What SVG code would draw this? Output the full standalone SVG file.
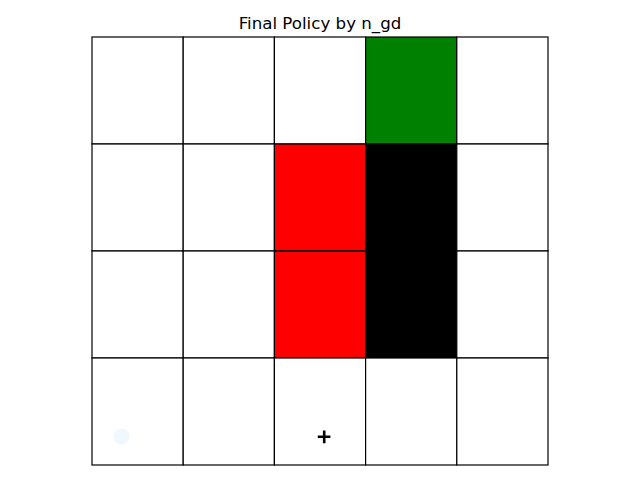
<svg xmlns="http://www.w3.org/2000/svg" width="640" height="480" viewBox="0 0 640 480">
<style>
.c{stroke:#000;stroke-width:1.2}
.t{font-family:"DejaVu Sans",sans-serif;font-size:16.67px;fill:#000}
</style>
<rect width="640" height="480" fill="#fff"/>
<text class="t" x="320" y="29" text-anchor="middle">Final Policy by n_gd</text>
<g id="grid">
<g id="r0">
<rect class="c" x="92" y="37" width="91.2" height="107" fill="#fff"/>
<rect class="c" x="183.2" y="37" width="91.2" height="107" fill="#fff"/>
<rect class="c" x="274.4" y="37" width="91.2" height="107" fill="#fff"/>
<rect class="c" x="365.6" y="37" width="91.2" height="107" fill="#008000"/>
<rect class="c" x="456.8" y="37" width="91.2" height="107" fill="#fff"/>
</g>
<g id="r1">
<rect class="c" x="92" y="144" width="91.2" height="107" fill="#fff"/>
<rect class="c" x="183.2" y="144" width="91.2" height="107" fill="#fff"/>
<rect class="c" x="274.4" y="144" width="91.2" height="107" fill="#f00"/>
<rect class="c" x="365.6" y="144" width="91.2" height="107" fill="#000"/>
<rect class="c" x="456.8" y="144" width="91.2" height="107" fill="#fff"/>
</g>
<g id="r2">
<rect class="c" x="92" y="251" width="91.2" height="107" fill="#fff"/>
<rect class="c" x="183.2" y="251" width="91.2" height="107" fill="#fff"/>
<rect class="c" x="274.4" y="251" width="91.2" height="107" fill="#f00"/>
<rect class="c" x="365.6" y="251" width="91.2" height="107" fill="#000"/>
<rect class="c" x="456.8" y="251" width="91.2" height="107" fill="#fff"/>
</g>
<g id="r3">
<rect class="c" x="92" y="358" width="91.2" height="107" fill="#fff"/>
<rect class="c" x="183.2" y="358" width="91.2" height="107" fill="#fff"/>
<rect class="c" x="274.4" y="358" width="91.2" height="107" fill="#fff"/>
<rect class="c" x="365.6" y="358" width="91.2" height="107" fill="#fff"/>
<rect class="c" x="456.8" y="358" width="91.2" height="107" fill="#fff"/>
</g>
</g>
<g id="markers">
<circle cx="121.6" cy="436.5" r="8" fill="#f0f8ff"/>
<path d="M317.8 436.8h12.6M324.2 430.6v12.6" stroke="#000" stroke-width="2.6"/>
</g>
</svg>
